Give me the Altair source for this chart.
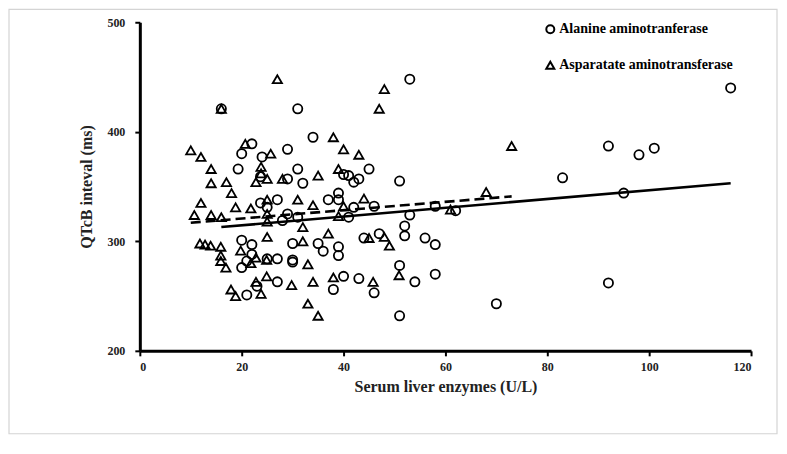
import altair as alt
import pandas as pd

series_names = ["Alanine aminotranferase", "Asparatate aminotransferase"]

alt_x = [16, 31, 53, 116, 34, 22, 20, 24, 29, 19.3, 31, 29, 32, 23.7, 40, 41, 42, 43, 45, 51,
         39, 37, 39, 27, 23.7, 25, 42, 46, 29, 28, 31, 41, 53, 58, 62, 83, 92, 98, 101, 95,
         92, 70, 51, 47, 52, 52, 44, 56, 58, 30, 35, 36, 39, 39, 20, 22, 20, 22, 21, 25,
         27, 30, 30, 51, 58, 40, 43, 54, 27, 23, 21, 38, 46]
alt_y = [421, 421, 448, 440, 395, 389, 380, 377, 384, 366, 366, 357, 353, 359, 361, 360, 354, 357, 366, 355,
         344, 338, 338, 338, 335, 331, 331, 332, 325, 319, 322, 322, 324, 332, 328, 358, 387, 379, 385, 344,
         262, 243, 232, 307, 314, 305, 303, 303, 297, 298, 298, 291, 295, 287, 301, 297, 276, 288, 282, 284,
         284, 283, 281, 278, 270, 268, 266, 263, 263, 259, 251, 256, 253]

ast_x = [16, 27, 48, 47, 73, 10, 12, 20.7, 25.7, 38, 40, 43, 14, 14, 17, 18, 23.8, 23.8, 22.8, 25,
         28, 35, 39, 12, 10.7, 14, 16, 18.8, 21.8, 25, 25, 25, 31, 34, 32, 37, 40, 39, 44, 68,
         61, 25, 32, 45, 48, 49, 11.8, 12.8, 13.9, 15.9, 15.9, 15.9, 19.8, 21.8, 22.8, 24.9, 16.9, 33,
         17.9, 18.8, 23.8, 22.8, 24.9, 29.8, 34, 38, 45.8, 50.9, 33, 35]
ast_y = [421, 448, 439, 421, 387, 383, 377, 389, 380, 395, 384, 379, 366, 353, 354, 344, 368, 362, 354, 357,
         357, 360, 366, 335, 324, 324, 322, 331, 330, 338, 325, 318, 338, 333, 313, 307, 332, 323, 339, 345,
         329, 304, 300, 303, 304, 296, 298, 297, 296, 295, 287, 282, 291.5, 280, 285, 283, 276, 279,
         256, 250, 252, 263, 268, 260, 263, 267, 263, 269, 243, 232]

fit_alt_x = [16, 116]
fit_alt_y = [313, 353]
fit_ast_x = [10, 73]
fit_ast_y = [317, 341]

x_ticks = [0, 20, 40, 60, 80, 100, 120]
y_ticks = [200, 300, 400, 500]

pts = pd.DataFrame({
    "x": alt_x + ast_x,
    "y": alt_y + ast_y,
    "series": [series_names[0]] * len(alt_x) + [series_names[1]] * len(ast_x),
})
fit_a = pd.DataFrame({"x": fit_alt_x, "y": fit_alt_y})
fit_b = pd.DataFrame({"x": fit_ast_x, "y": fit_ast_y})

FONT = "Liberation Serif"

xscale = alt.Scale(domain=[0, 120], nice=False)
yscale = alt.Scale(domain=[200, 500], nice=False)

xaxis = alt.Axis(values=x_ticks, title="Serum liver enzymes (U/L)", titlePadding=6)
yaxis = alt.Axis(values=y_ticks, title="QTcB inteval (ms)", titlePadding=12)

points = alt.Chart(pts).mark_point(filled=False, strokeWidth=1.8, color="black", size=85, opacity=1).encode(
    x=alt.X("x:Q", scale=xscale, axis=xaxis),
    y=alt.Y("y:Q", scale=yscale, axis=yaxis),
    shape=alt.Shape("series:N",
                    scale=alt.Scale(domain=series_names, range=["circle", "triangle-up"]),
                    legend=alt.Legend(title=None, orient="none", legendX=404, legendY=0,
                                      rowPadding=20, symbolSize=64, symbolStrokeWidth=2,
                                      symbolStrokeColor="black", labelFont=FONT,
                                      labelFontWeight="bold", labelFontSize=14, labelLimit=400,
                                      labelColor="black", labelOffset=2)),
)

line_a = alt.Chart(fit_a).mark_line(color="black", strokeWidth=2.6).encode(
    x=alt.X("x:Q", scale=xscale), y=alt.Y("y:Q", scale=yscale))
line_b = alt.Chart(fit_b).mark_line(color="black", strokeWidth=2.6, strokeDash=[10, 5]).encode(
    x=alt.X("x:Q", scale=xscale), y=alt.Y("y:Q", scale=yscale))

border = alt.Chart(pd.DataFrame({"a": [0]})).mark_rect(
    fillOpacity=0, fill="white", stroke="#d4d4d4", strokeWidth=1.2).encode(
    x=alt.value(-131), x2=alt.value(638), y=alt.value(-13), y2=alt.value(412))

chart = alt.layer(border, points, line_a, line_b).properties(
    width=612, height=329,
    autosize=alt.AutoSizeParams(type="none"),
    padding={"left": 132, "top": 14, "right": 28, "bottom": 85},
).configure_view(stroke=None).configure_axis(
    grid=False, domainColor="black", domainWidth=3, tickColor="black", tickWidth=2, tickSize=5,
    labelFont=FONT, labelFontWeight="bold", labelFontSize=12, labelColor="#222",
    labelPadding=6, titleFont=FONT, titleFontWeight="bold", titleFontSize=16, titleColor="#222",
).configure_axisY(labelPadding=10)

chart.save("out.html", embed_options={"renderer": "svg", "actions": False})
